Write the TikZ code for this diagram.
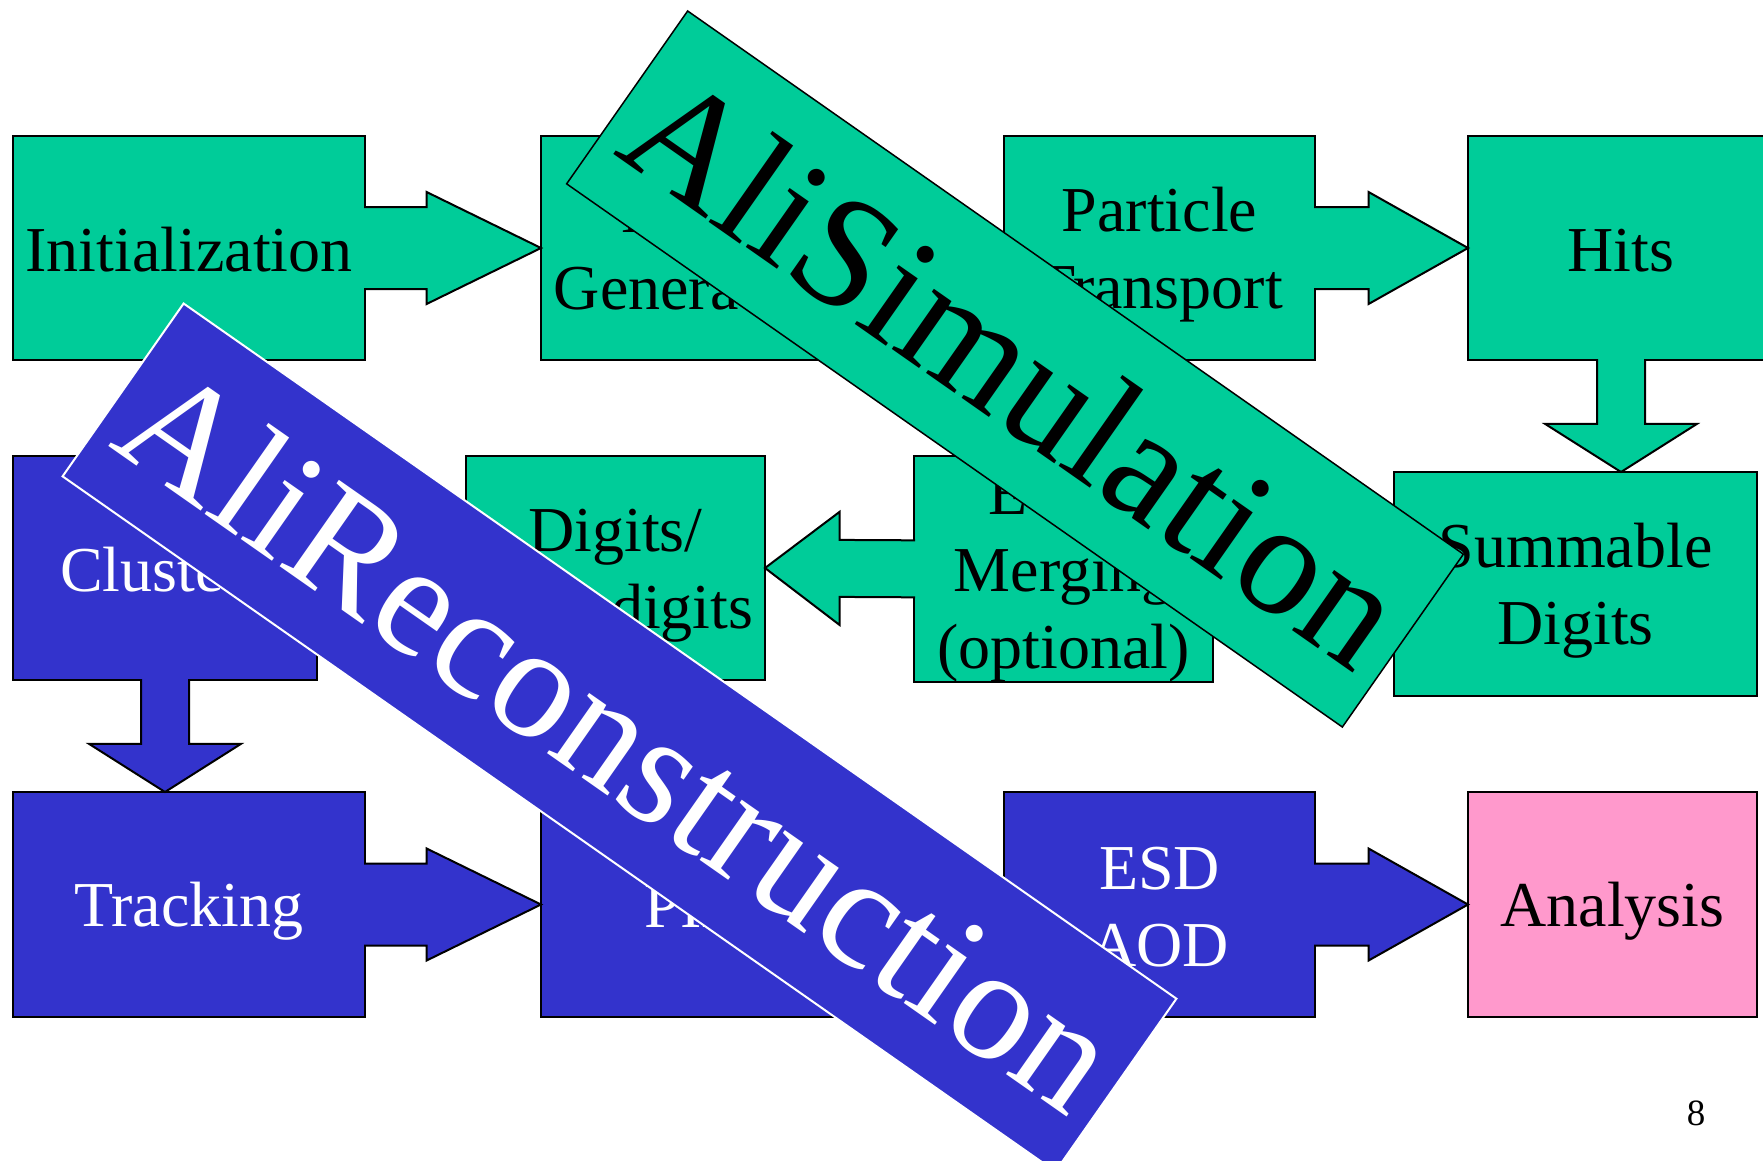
\documentclass[tikz,border=0pt]{standalone}
\usepackage{fontspec}
\setmainfont{Liberation Serif}
\usetikzlibrary{calc}
\definecolor{simgreen}{RGB}{0,204,153}
\definecolor{recblue}{RGB}{51,51,204}
\definecolor{anapink}{RGB}{255,153,204}
\newcommand{\boxstrut}{\rule[-12pt]{0pt}{70pt}}

\begin{document}
\begin{tikzpicture}[x=1pt,y=-1pt,
  stepbox/.style={draw,rectangle,line width=2pt,inner sep=0pt,outer sep=0pt,
    anchor=north west,align=center,font=\fontsize{64}{77}\selectfont},
  simbox/.style={stepbox,fill=simgreen,text=black},
  recbox/.style={stepbox,fill=recblue,text=white},
  simarrow/.style={draw,line width=2pt,fill=simgreen},
  recarrow/.style={draw,line width=2pt,fill=recblue},
  banner/.style={rectangle,rotate=-35,inner sep=0pt,minimum height=211pt,
    font=\fontsize{160}{160}\selectfont}]
  \useasboundingbox (0,0) rectangle (1763,1160);
  \clip (0,0) rectangle (1763,1160);

  \node[simbox,minimum width=352pt,minimum height=224pt] (init) at (13,136) {\boxstrut Initialization};
  \node[simbox,minimum width=310pt,minimum height=224pt] (evgen) at (541,136) {\boxstrut Event\\Generation\boxstrut};
  \node[simbox,minimum width=311pt,minimum height=224pt] (transport) at (1004,136) {\boxstrut Particle\\Transport\boxstrut};
  \node[simbox,minimum width=306pt,minimum height=224pt] (hits) at (1468,136) {\boxstrut Hits};
  \node[simbox,minimum width=363pt,minimum height=224pt] (summable) at (1394,472) {\boxstrut Summable\\Digits\boxstrut};
  \node[simbox,minimum width=299pt,minimum height=225pt] (merging) at (914,456) {\boxstrut Event\\Merging\\(optional)\boxstrut};
  \node[simbox,minimum width=299pt,minimum height=224pt] (digits) at (466,456) {\boxstrut Digits/\\Raw digits\boxstrut};
  \node[recbox,minimum width=304pt,minimum height=224pt] (clusters) at (13,456) {\boxstrut Clusters};
  \node[recbox,minimum width=352pt,minimum height=225pt] (tracking) at (13,792) {\boxstrut Tracking};
  \node[recbox,minimum width=310pt,minimum height=225pt] (pid) at (541,792) {\boxstrut PID};
  \node[recbox,minimum width=311pt,minimum height=225pt] (esd) at (1004,792) {\boxstrut ESD\\AOD\boxstrut};
  \node[stepbox,fill=anapink,minimum width=289pt,minimum height=225pt] (analysis) at (1468,792) {\boxstrut Analysis};

  \coordinate (h1) at ($(init.east)!0.35!(evgen.west)$);
  \coordinate (h2) at ($(evgen.east)!0.35!(transport.west)$);
  \coordinate (h3) at ($(transport.east)!0.35!(hits.west)$);
  \coordinate (h4) at ($(merging.west)!0.5!(digits.east)$);
  \coordinate (t5) at (hits.south |- summable.north);
  \coordinate (h5) at ($(hits.south)!0.57!(t5)$);
  \coordinate (t6) at (clusters.south |- tracking.north);
  \coordinate (h6) at ($(clusters.south)!0.57!(t6)$);
  \coordinate (h7) at ($(tracking.east)!0.35!(pid.west)$);
  \coordinate (h8) at ($(pid.east)!0.35!(esd.west)$);
  \coordinate (h9) at ($(esd.east)!0.35!(analysis.west)$);

  \filldraw[simarrow] ($(init.east)+(-1,-41)$) -- ($(h1)+(0,-41)$) -- ($(h1)+(0,-56)$) -- (evgen.west)
    -- ($(h1)+(0,56)$) -- ($(h1)+(0,41)$) -- ($(init.east)+(-1,41)$);
  \filldraw[simarrow] ($(evgen.east)+(-1,-41)$) -- ($(h2)+(0,-41)$) -- ($(h2)+(0,-56)$) -- (transport.west)
    -- ($(h2)+(0,56)$) -- ($(h2)+(0,41)$) -- ($(evgen.east)+(-1,41)$);
  \filldraw[simarrow] ($(transport.east)+(-1,-41)$) -- ($(h3)+(0,-41)$) -- ($(h3)+(0,-56)$) -- (hits.west)
    -- ($(h3)+(0,56)$) -- ($(h3)+(0,41)$) -- ($(transport.east)+(-1,41)$);
  \filldraw[simarrow] ($(merging.west)+(1,-28.5)$) -- ($(h4)+(0,-28.5)$) -- ($(h4)+(0,-56.5)$) -- (digits.east)
    -- ($(h4)+(0,56.5)$) -- ($(h4)+(0,28.5)$) -- ($(merging.west)+(1,28.5)$);
  \filldraw[simarrow] ($(hits.south)+(-24,-1)$) -- ($(h5)+(-24,0)$) -- ($(h5)+(-76,0)$) -- (t5)
    -- ($(h5)+(76,0)$) -- ($(h5)+(24,0)$) -- ($(hits.south)+(24,-1)$);
  \filldraw[recarrow] ($(clusters.south)+(-24,-1)$) -- ($(h6)+(-24,0)$) -- ($(h6)+(-76,0)$) -- (t6)
    -- ($(h6)+(76,0)$) -- ($(h6)+(24,0)$) -- ($(clusters.south)+(24,-1)$);
  \filldraw[recarrow] ($(tracking.east)+(-1,-41)$) -- ($(h7)+(0,-41)$) -- ($(h7)+(0,-56)$) -- (pid.west)
    -- ($(h7)+(0,56)$) -- ($(h7)+(0,41)$) -- ($(tracking.east)+(-1,41)$);
  \filldraw[recarrow] ($(pid.east)+(-1,-41)$) -- ($(h8)+(0,-41)$) -- ($(h8)+(0,-56)$) -- (esd.west)
    -- ($(h8)+(0,56)$) -- ($(h8)+(0,41)$) -- ($(pid.east)+(-1,41)$);
  \filldraw[recarrow] ($(esd.east)+(-1,-41)$) -- ($(h9)+(0,-41)$) -- ($(h9)+(0,-56)$) -- (analysis.west)
    -- ($(h9)+(0,56)$) -- ($(h9)+(0,41)$) -- ($(esd.east)+(-1,41)$);

  \node[banner,fill=simgreen,draw=black,line width=1.5pt,text=black,minimum width=947pt] (alisim) at (1015,369) {AliSimulation};
  \node[banner,fill=recblue,draw=white,line width=2pt,text=white,minimum width=1212pt] (alirec) at (619.5,737.5) {AliReconstruction};

  \node[font=\fontsize{37}{40}\selectfont] (pagenum) at (1696,1113) {8};
\end{tikzpicture}
\end{document}
